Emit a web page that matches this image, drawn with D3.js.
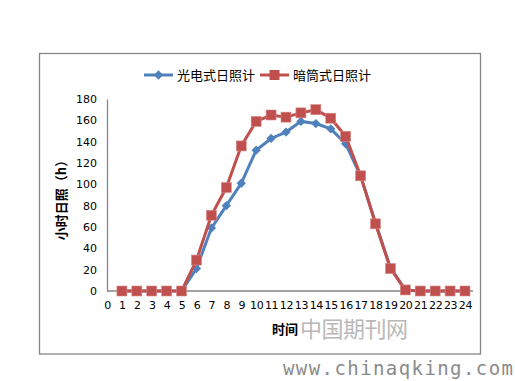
<!DOCTYPE html>
<meta charset="utf-8">
<style>
body { margin: 0; background: #fff; }
.line { fill: none; stroke-width: 3px; }
</style>
<script src="https://d3js.org/d3.v7.min.js"></script>
<body>
<div id="chart"></div>
</body>
<script>

    // hours on the x axis (0..24), data only for 1..24
    var hours = d3.range(0, 25);
    var dataHours = d3.range(1, 25);
    var yTicks = [0, 20, 40, 60, 80, 100, 120, 140, 160, 180];

    // 光电式日照计
    var guangdian = [0, 0, 0, 0, 0, 21, 59, 80, 101, 132, 143, 149, 159, 157, 152, 138, 108, 64, 22, 1, 0, 0, 0, 0];
    // 暗筒式日照计
    var antong = [0, 0, 0, 0, 0, 29, 71, 97, 136, 159, 165, 163, 167, 170, 162, 145, 108, 63, 21, 1, 0, 0, 0, 0];

    var seriesNames = ["光电式日照计", "暗筒式日照计"];
    var colors = ["#4F81BD", "#C0504D"];

    var W = 515, H = 381;
    var margin = {top: 99, left: 107, right: 50, bottom: 90};
    var width = 465 - margin.left,
        height = 291 - margin.top;

    var svg = d3.select("#chart").append("svg")
        .attr("width", W)
        .attr("height", H);

    // chart border
    svg.append("rect")
        .attr("x", 39.5).attr("y", 53.5)
        .attr("width", 441).attr("height", 300.5)
        .attr("fill", "#fff")
        .attr("stroke", "#868686")
        .attr("stroke-width", 1.3);

    var g = svg.append("g")
        .attr("transform", "translate(" + margin.left + "," + margin.top + ")");

    var x = d3.scaleLinear().domain([0, 24]).range([0, width]);
    var y = d3.scaleLinear().domain([0, 180]).range([height, 0]);

    // y axis
    var yAxis = g.append("g")
        .call(d3.axisLeft(y).tickValues(yTicks).tickSize(0).tickPadding(10));
    yAxis.select(".domain").attr("stroke", "#868686").attr("stroke-width", 1.3);
    yAxis.selectAll("text")
        .attr("font-family", "DejaVu Sans")
        .attr("font-size", 11)
        .attr("fill", "#000");

    // x axis
    var xAxis = g.append("g")
        .attr("transform", "translate(0," + height + ")")
        .call(d3.axisBottom(x).tickValues(hours).tickSize(0).tickPadding(10).tickFormat(d3.format("d")));
    xAxis.select(".domain").attr("stroke", "#868686").attr("stroke-width", 1.3)
        .attr("d", "M0,0H" + (width + 8));
    xAxis.selectAll("text")
        .attr("font-family", "DejaVu Sans")
        .attr("font-size", 11)
        .attr("fill", "#000")
        .attr("letter-spacing", "-0.3");

    // axis titles
    svg.append("text")
        .attr("transform", "translate(66,197) rotate(-90)")
        .attr("text-anchor", "middle")
        .attr("font-family", "Noto Sans CJK SC")
        .attr("font-weight", "bold")
        .attr("font-size", 13)
        .text("小时日照（h）");

    svg.append("text")
        .attr("x", 285).attr("y", 334)
        .attr("text-anchor", "middle")
        .attr("font-family", "Noto Sans CJK SC")
        .attr("font-weight", "bold")
        .attr("font-size", 13)
        .text("时间");

    var line = d3.line()
        .x(function(d, i) { return x(dataHours[i]); })
        .y(function(d) { return y(d); });

    // 光电式 line + diamonds
    g.append("path")
        .datum(guangdian)
        .attr("class", "line")
        .attr("stroke", colors[0])
        .attr("d", line);

    g.selectAll(".dia")
        .data(guangdian)
        .enter().append("path")
        .attr("class", "dia")
        .attr("fill", colors[0])
        .attr("d", d3.symbol().type(d3.symbolDiamond2).size(55))
        .attr("transform", function(d, i) { return "translate(" + x(dataHours[i]) + "," + y(d) + ")"; });

    // 暗筒式 line + squares
    g.append("path")
        .datum(antong)
        .attr("class", "line")
        .attr("stroke", colors[1])
        .attr("d", line);

    g.selectAll(".sq")
        .data(antong)
        .enter().append("rect")
        .attr("class", "sq")
        .attr("fill", colors[1])
        .attr("stroke", "#d88a88")
        .attr("stroke-width", 0.6)
        .attr("x", function(d, i) { return x(dataHours[i]) - 5; })
        .attr("y", function(d) { return y(d) - 5; })
        .attr("width", 10).attr("height", 10);

    // legend
    var legend = svg.append("g").attr("transform", "translate(144,75)");
    var lx = [0, 116];
    seriesNames.forEach(function(name, i) {
        var lg = legend.append("g").attr("transform", "translate(" + lx[i] + ",0)");
        lg.append("line")
            .attr("x1", 0).attr("x2", 29)
            .attr("stroke", colors[i]).attr("stroke-width", 3);
        if (i === 0) {
            lg.append("path")
                .attr("fill", colors[0])
                .attr("transform", "translate(14.5,0)")
                .attr("d", d3.symbol().type(d3.symbolDiamond2).size(55));
        } else {
            lg.append("rect")
                .attr("fill", colors[1])
                .attr("x", 9.5).attr("y", -5).attr("width", 10).attr("height", 10);
        }
        lg.append("text")
            .attr("x", 33).attr("y", 5)
            .attr("font-family", "Noto Sans CJK SC")
            .attr("font-size", 13)
            .text(name);
    });

    // watermark
    svg.append("text")
        .attr("x", 300).attr("y", 337)
        .attr("font-family", "Noto Sans CJK SC")
        .attr("font-size", 22)
        .attr("fill", "#b8b8b8")
        .attr("textLength", 108)
        .text("中国期刊网");

    svg.append("text")
        .attr("x", 283).attr("y", 375)
        .attr("font-family", "DejaVu Sans Mono")
        .attr("font-size", 19)
        .attr("fill", "#8a8a8a")
        .attr("textLength", 230)
        .text("www.chinaqking.com");

</script>
